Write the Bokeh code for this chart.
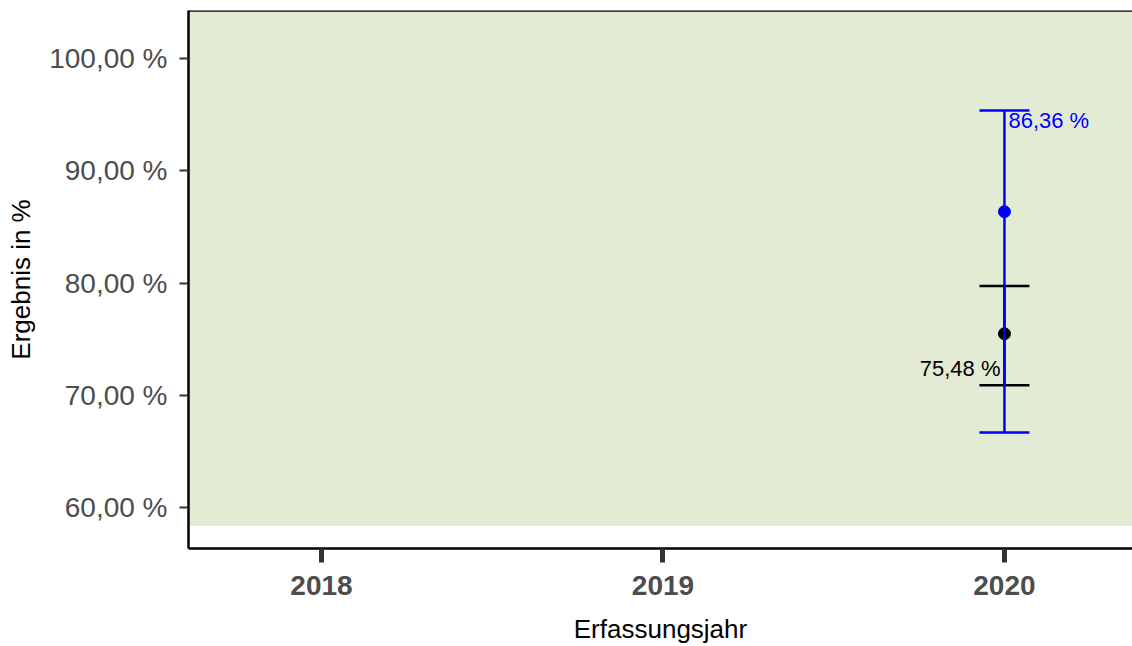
from bokeh.plotting import figure
from bokeh.models import FixedTicker, Span, BoxAnnotation, Range1d, ColumnDataSource
from bokeh.core.properties import value
from bokeh.embed import file_html
from bokeh.resources import INLINE

# ---- data ----
jahre = [2018, 2019, 2020]
jahr_label = ["2018", "2019", "2020"]
y_ticks = [60, 70, 80, 90, 100]

daten_jahr = [2020]
bund_wert = [75.48]
bund_ki_unten = [70.89]
bund_ki_oben = [79.73]
haus_wert = [86.36]
haus_ki_unten = [66.68]
haus_ki_oben = [95.37]
referenz_unten = 58.35

def fmt(v):
    return f"{v:.2f}".replace(".", ",") + " %"

FONT = "Liberation Sans"
BLUE = "#0000FF"
Y_TOP = 104.28

p = figure(width=1132, height=646, output_backend="svg", toolbar_location=None,
           x_range=Range1d(2017.6105, 2020.375), y_range=Range1d(56.35, Y_TOP),
           min_border_left=188, min_border_right=0, min_border_top=10, min_border_bottom=98)
p.background_fill_color = "white"
p.border_fill_color = "white"
p.outline_line_color = None
p.grid.visible = False

p.add_layout(BoxAnnotation(bottom=referenz_unten, fill_color="#E3EBD4", fill_alpha=1.0,
                           line_color=None, level="underlay"))
p.add_layout(Span(location=Y_TOP, dimension="width", line_color="black", line_width=2.5))

bund = ColumnDataSource(dict(x=daten_jahr, y=bund_wert, lo=bund_ki_unten, hi=bund_ki_oben,
                             lab=[fmt(v) for v in bund_wert]))
haus = ColumnDataSource(dict(x=daten_jahr, y=haus_wert, lo=haus_ki_unten, hi=haus_ki_oben,
                             lab=[fmt(v) for v in haus_wert]))

LW = 2.5
# Bund (black)
p.segment(x0="x", y0="lo", x1="x", y1="hi", source=bund, line_color="black", line_width=LW)
p.scatter(x="x", y="lo", source=bund, marker="dash", size=50, line_color="black", line_width=LW)
p.scatter(x="x", y="hi", source=bund, marker="dash", size=50, line_color="black", line_width=LW)
p.scatter(x="x", y="y", source=bund, marker="circle", size=12, fill_color="black", line_color="black")
p.text(x="x", y="lo", text="lab", source=bund, text_align="right", text_baseline="bottom",
       x_offset=-4, y_offset=-4, text_font=value(FONT), text_font_size="22px", text_color="black")

# Haus (blue)
p.segment(x0="x", y0="lo", x1="x", y1="hi", source=haus, line_color=BLUE, line_width=LW)
p.scatter(x="x", y="lo", source=haus, marker="dash", size=50, line_color=BLUE, line_width=LW)
p.scatter(x="x", y="hi", source=haus, marker="dash", size=50, line_color=BLUE, line_width=LW)
p.scatter(x="x", y="y", source=haus, marker="circle", size=12, fill_color=BLUE, line_color=BLUE)
p.text(x="x", y="hi", text="lab", source=haus, text_align="left", text_baseline="top",
       x_offset=4, y_offset=-3, text_font=value(FONT), text_font_size="22px", text_color=BLUE)

# axes
xa = p.xaxis[0]
xa.ticker = FixedTicker(ticks=jahre)
xa.major_label_overrides = {j: l for j, l in zip(jahre, jahr_label)}
xa.minor_tick_line_color = None
xa.major_tick_in = 0
xa.major_tick_out = 14
xa.major_tick_line_width = 5
xa.major_tick_line_color = "#333333"
xa.axis_line_color = "black"
xa.axis_line_width = 2.5
xa.major_label_text_font = FONT
xa.major_label_text_font_style = "bold"
xa.major_label_text_font_size = "28px"
xa.major_label_text_color = "#4D4D4D"
xa.major_label_standoff = 13
xa.axis_label = "Erfassungsjahr"
xa.axis_label_text_font = FONT
xa.axis_label_text_font_style = "normal"
xa.axis_label_text_font_size = "26px"
xa.axis_label_text_color = "black"
xa.axis_label_standoff = 16

ya = p.yaxis[0]
ya.ticker = FixedTicker(ticks=y_ticks)
ya.major_label_overrides = {t: fmt(t) for t in y_ticks}
ya.minor_tick_line_color = None
ya.major_tick_in = 0
ya.major_tick_out = 9
ya.major_tick_line_width = 2
ya.major_tick_line_color = "#333333"
ya.axis_line_color = "black"
ya.axis_line_width = 2.5
ya.major_label_text_font = FONT
ya.major_label_text_font_size = "28px"
ya.major_label_text_color = "#4D4D4D"
ya.major_label_standoff = 12
ya.axis_label = "Ergebnis in %"
ya.axis_label_text_font = FONT
ya.axis_label_text_font_style = "normal"
ya.axis_label_text_font_size = "26px"
ya.axis_label_text_color = "black"
ya.axis_label_standoff = 10

open("out.html", "w").write(file_html(p, INLINE))
